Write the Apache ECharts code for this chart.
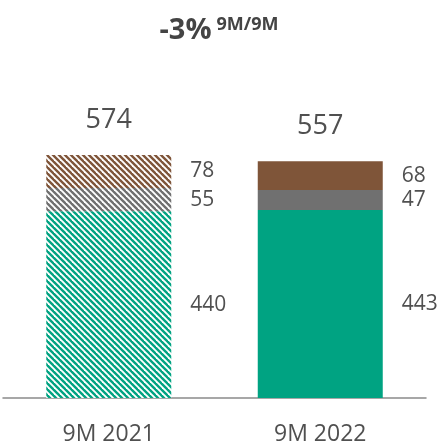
<!DOCTYPE html>
<html>
<head>
<meta charset="utf-8">
<script src="https://cdn.jsdelivr.net/npm/echarts@6/dist/echarts.min.js"></script>
<style>
html,body{margin:0;padding:0;background:#fff;}
#c{width:438px;height:446px;}
</style>
</head>
<body>
<div id="c"></div>
<script>
var categories = ['9M 2021', '9M 2022'];
var greenValues = [440, 443];
var greyValues = [55, 47];
var brownValues = [78, 68];
var totals = [574, 557];
var titleMain = '-3%';
var titleSub = '9M/9M';

var GREEN = '#00a382', GREY = '#707070', BROWN = '#7f5539';
var FONT = 'Open Sans';
var TXT = '#505050';

function hatch(color) {
  var n = 6;
  var cv = document.createElement('canvas');
  cv.width = n; cv.height = n;
  var ctx = cv.getContext('2d');
  ctx.fillStyle = '#fff';
  ctx.fillRect(0, 0, n, n);
  ctx.strokeStyle = color;
  ctx.lineWidth = 2.4;
  [-n, 0, n].forEach(function (k) {
    ctx.beginPath();
    ctx.moveTo(k - 1, -1);
    ctx.lineTo(k + n + 1, n + 1);
    ctx.stroke();
  });
  return { image: cv, repeat: 'repeat' };
}

function seg(name, values, color) {
  return {
    name: name, type: 'bar', stack: 'a', barWidth: 125,
    data: values.map(function (v, i) {
      return { value: v, itemStyle: { color: i === 0 ? hatch(color) : color } };
    }),
    label: { show: true, position: 'right', distance: 19, fontSize: 21, color: TXT, fontFamily: FONT },
    emphasis: { disabled: true },
    animation: false
  };
}

var chart = echarts.init(document.getElementById('c'));
chart.setOption({
  animation: false,
  title: {
    text: '{a|' + titleMain + '} {b|' + titleSub + '}',
    left: 'center', top: 11,
    textStyle: {
      rich: {
        a: { fontSize: 29, fontWeight: 'bold', color: '#444', fontFamily: FONT },
        b: { fontSize: 18, fontWeight: 'bold', color: '#444', fontFamily: FONT, verticalAlign: 'top' }
      }
    }
  },
  grid: { left: 3, right: 12, top: 101, bottom: 44 },
  xAxis: {
    type: 'category', data: categories,
    axisLine: { lineStyle: { color: '#8a8a8a', width: 1.5 } },
    axisTick: { show: false },
    axisLabel: { fontSize: 23, color: TXT, fontFamily: FONT, margin: 25 }
  },
  yAxis: { type: 'value', min: 0, max: 700, show: false, splitLine: { show: false } },
  series: [
    seg('green', greenValues, GREEN),
    seg('grey', greyValues, GREY),
    seg('brown', brownValues, BROWN),
    {
      name: 'total', type: 'bar', stack: 'a', barWidth: 125,
      data: totals.map(function () { return 0; }),
      itemStyle: { color: 'transparent' },
      label: {
        show: true, position: 'top', distance: 21, fontSize: 27, color: TXT, fontFamily: FONT,
        formatter: function (p) { return totals[p.dataIndex]; }
      },
      emphasis: { disabled: true }
    }
  ]
});
</script>
</body>
</html>
